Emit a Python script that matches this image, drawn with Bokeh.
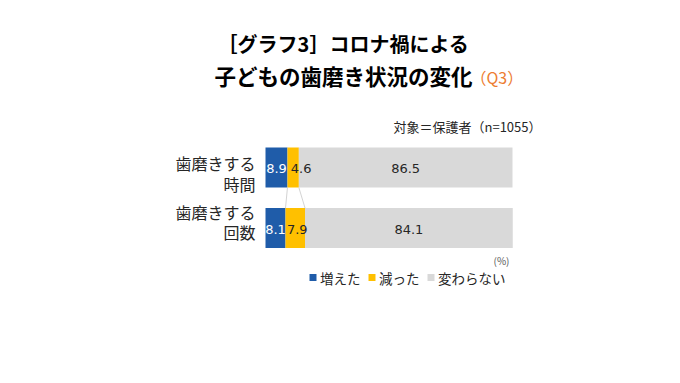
import numpy as np
from bokeh.plotting import figure
from bokeh.models import Range1d
from bokeh.core.properties import value
from bokeh.embed import file_html
from bokeh.resources import INLINE

# ---- data ----
categories = ["歯磨きする\n時間", "歯磨きする\n回数"]
series_names = ["増えた", "減った", "変わらない"]
increased = [8.9, 8.1]
decreased = [4.6, 7.9]
unchanged = [86.5, 84.1]
colors = ["#1F5CA9", "#FFC000", "#D9D9D9"]
label_colors = ["white", "#262626", "#262626"]

title_line1 = "［グラフ3］コロナ禍による"
title_line2 = "子どもの歯磨き状況の変化"
title_q = "（Q3）"
subtitle = "対象＝保護者（n=1055）"
unit_label = "(%)"

FONT = "Noto Sans CJK JP"
NUMFONT = "DejaVu Sans"
W, H = 664, 367

# x: 0..100 maps to px 265..512 ; y: px from top
sx = 2.47
X0 = 265
def px(x):
    return (x - X0) / sx

p = figure(width=W, height=H, output_backend="svg", toolbar_location=None,
           x_range=Range1d(px(0), px(W)),
           y_range=Range1d(H, 0), min_border=0)
p.axis.visible = False
p.grid.visible = False
p.outline_line_color = None
p.background_fill_color = "white"
p.border_fill_color = "white"

bar_y = [167, 227.5]
bar_h = 40

series = [increased, decreased, unchanged]
left = np.zeros(len(categories))
lefts, rights = [], []
for vals, col in zip(series, colors):
    vals = np.array(vals)
    right = left + vals
    p.hbar(y=bar_y, left=left, right=right, height=bar_h, color=col, line_color=None)
    lefts.append(left.copy())
    rights.append(right.copy())
    left = right

# connector lines between bars
for k in range(2):
    p.segment(x0=[rights[k][0]], y0=[bar_y[0] + bar_h / 2],
              x1=[rights[k][1]], y1=[bar_y[1] - bar_h / 2],
              line_color="#C8C8C8", line_width=0.8)

# value labels
label_xoff = [[0, 0], [8, 2], [0, 0]]
for s, (vals, lc) in enumerate(zip(series, label_colors)):
    mids = (lefts[s] + rights[s]) / 2
    for i in range(len(categories)):
        p.text(x=[mids[i]], y=[bar_y[i] + 1], text=[f"{vals[i]:.1f}"],
               text_font=value(NUMFONT), text_font_size="13px", text_color=lc,
               text_align="center", text_baseline="middle", x_offset=label_xoff[s][i])

# category labels (two lines each)
cat_line_off = [[-5, 16], [-16, 3.5]]
for i, c in enumerate(categories):
    for line, off in zip(c.split("\n"), cat_line_off[i]):
        p.text(x=[px(255)], y=[bar_y[i] + off], text=[line], text_font=value(FONT),
               text_font_size="16px", text_color="#262626", text_align="right",
               text_baseline="middle")

# title
tx = px(343)
p.text(x=[tx], y=[43], text=[title_line1], text_font=value(FONT), text_font_size="20px",
       text_font_style="bold", text_color="black", text_align="center", text_baseline="middle")
p.text(x=[tx], y=[75], text=[title_line2], text_font=value(FONT), text_font_size="21.5px",
       text_font_style="bold", text_color="black", text_align="center", text_baseline="middle")
p.text(x=[px(470)], y=[76], text=[title_q], text_font=value(FONT), text_font_size="16px",
       text_color="#ED7D31", text_align="left", text_baseline="middle")

# subtitle
p.text(x=[px(541)], y=[126], text=[subtitle], text_font=value(FONT),
       text_font_size="13px", text_color="#262626", text_align="right", text_baseline="middle")

# unit
p.text(x=[px(509)], y=[260], text=[unit_label], text_font=value(FONT),
       text_font_size="10px", text_color="#595959", text_align="right", text_baseline="middle")

# legend
leg_sq = [px(312.5), px(371.5), px(430.5)]
p.scatter(x=leg_sq, y=[277] * 3, marker="square", size=7, color=colors, line_color=None)
p.text(x=[v + 7 / sx for v in leg_sq], y=[277] * 3, text=series_names, text_font=value(FONT),
       text_font_size="13.5px", text_color="#262626", text_align="left", text_baseline="middle")

open("out.html", "w").write(file_html(p, INLINE))
